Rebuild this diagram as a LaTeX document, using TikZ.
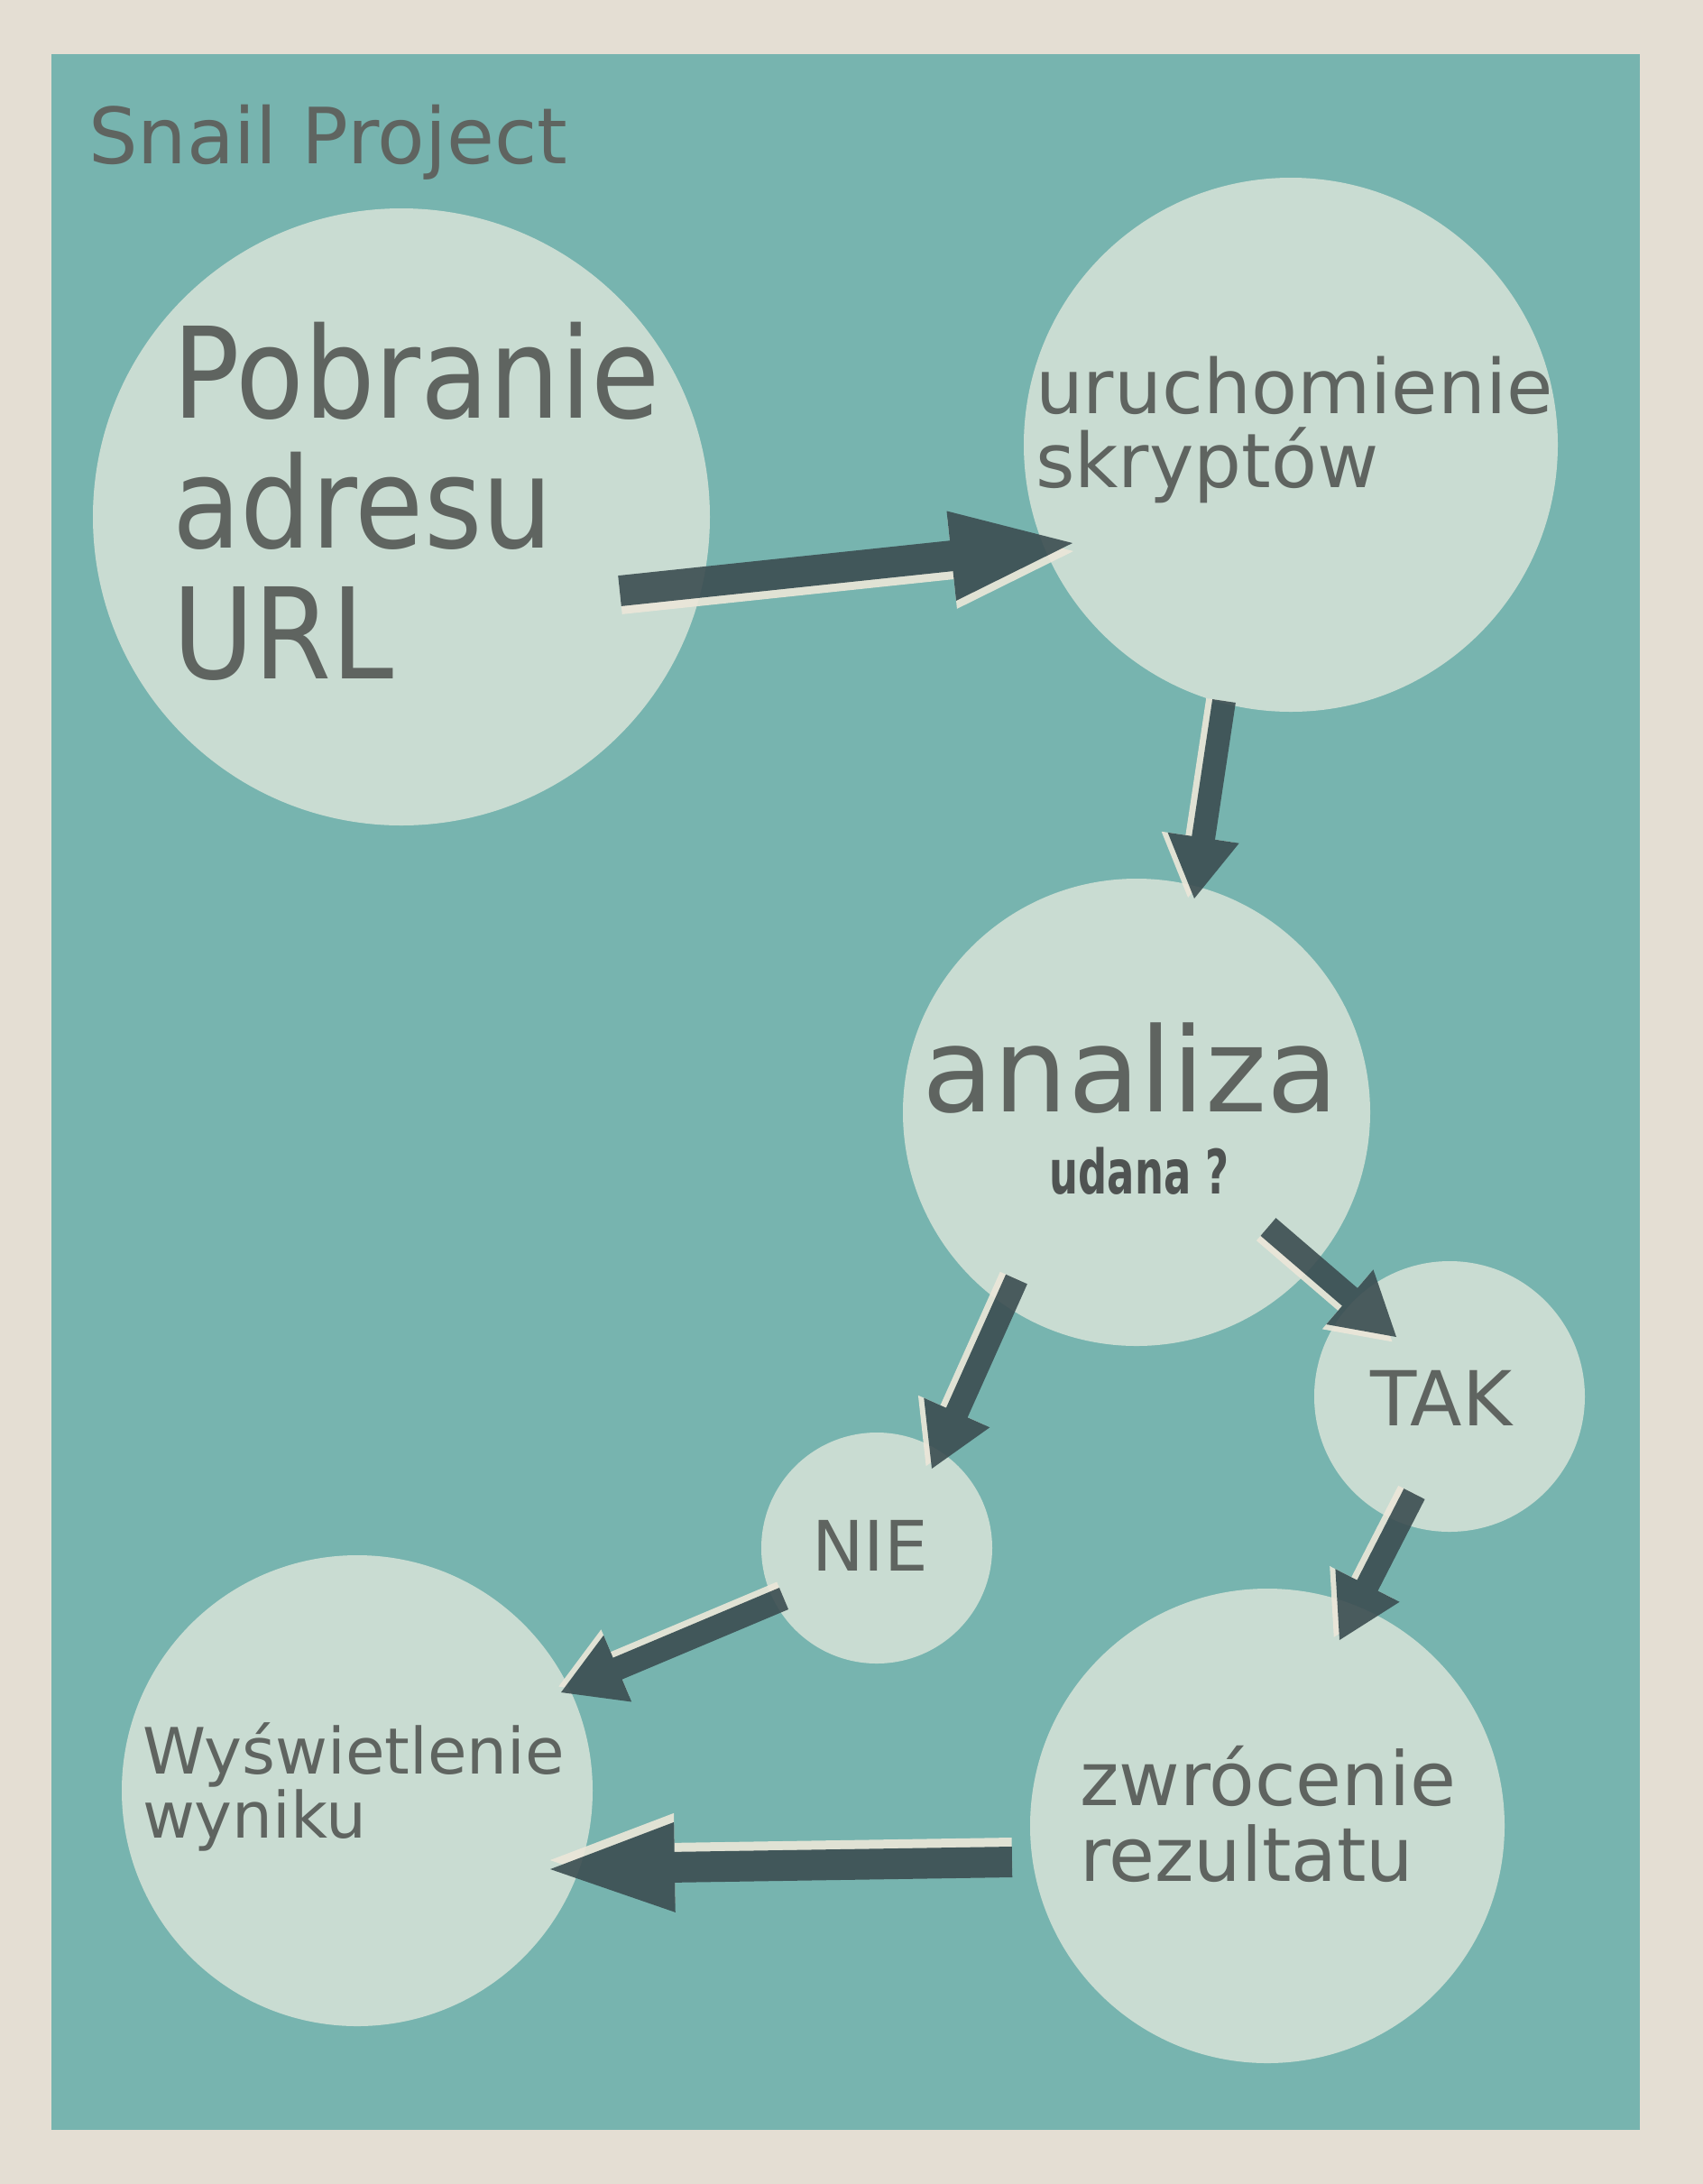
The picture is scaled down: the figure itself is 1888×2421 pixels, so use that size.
\documentclass[tikz,border=0pt]{standalone}
\usepackage{fontspec}
\setmainfont{DejaVu Sans}
\newfontfamily\condbold{DejaVu Sans}[FakeStretch=0.66]
\usetikzlibrary{calc}
\definecolor{paperc}{HTML}{E4DED3}
\definecolor{tealc}{HTML}{77B4AF}
\definecolor{bubblec}{HTML}{C9DCD2}
\definecolor{textc}{HTML}{5F6460}
\definecolor{boldc}{HTML}{4F5352}
\definecolor{darkc}{HTML}{3C4D51}
\definecolor{creamc}{HTML}{ECE7D9}
\newcommand{\snailshape}[6]{%
  \path ($(#3)!#6!(#2)$) coordinate (sp-h);
  \fill[#1] ($(#2)!#4!90:(#3)$) -- ($(sp-h)!#4!90:(#3)$) -- ($(sp-h)!#5!90:(#3)$) -- (#3)
    -- ($(sp-h)!#5!-90:(#3)$) -- ($(sp-h)!#4!-90:(#3)$) -- ($(#2)!#4!-90:(#3)$) -- cycle;}
\newcommand{\snailarrow}[6]{%
  \path ($(#1)!#6!-90:(#2)$) coordinate (sa-t) ($(#2)!#6!90:(#1)$) coordinate (sa-p);
  \begin{scope}[transparency group, opacity=0.9]
    \snailshape{creamc}{sa-t}{sa-p}{#3}{#4}{#5}
    \snailshape{darkc}{#1}{#2}{#3}{#4}{#5}
  \end{scope}}
\begin{document}
\begin{tikzpicture}[x=1pt,y=-1pt,
  bubble/.style={circle, fill=bubblec, inner sep=0pt, draw=none},
  lbl/.style={anchor=base west, inner sep=0pt, outer sep=0pt, text=textc}]
\useasboundingbox (0,0) rectangle (1888,2421);
\fill[paperc] (0,0) rectangle (1888,2421);
\fill[tealc] (57,60) rectangle (1818,2361);

\node[lbl, font=\fontsize{86}{90}\selectfont] (title) at (98,181) {Snail Project};

\node[bubble, minimum size=684pt] (pob) at (445,573) {};
\node[bubble, minimum size=592pt] (uru) at (1431,493) {};
\node[bubble, minimum size=518pt] (ana) at (1260,1233) {};
\node[bubble, minimum size=300pt] (tak) at (1607,1548) {};
\node[bubble, minimum size=256pt] (nie) at (972,1716) {};
\node[bubble, minimum size=522pt] (wys) at (396,1985) {};
\node[bubble, minimum size=526pt] (zwr) at (1405,2024) {};

\node[lbl, font=\fontsize{140}{140}\selectfont] (pob1) at (191,463) {\scalebox{0.885}[1]{Pobranie}};
\node[lbl, font=\fontsize{140}{140}\selectfont] (pob2) at (191,607) {\scalebox{0.885}[1]{adresu}};
\node[lbl, font=\fontsize{140}{140}\selectfont] (pob3) at (191,752) {\scalebox{0.885}[1]{URL}};

\node[lbl, font=\fontsize{83.5}{83.5}\selectfont] (uru1) at (1148,458) {uruchomienie};
\node[lbl, font=\fontsize{83.5}{83.5}\selectfont] (uru2) at (1148,540) {skryptów};

\node[lbl, font=\fontsize{130}{130}\selectfont] (ana1) at (1022,1232) {analiza};
\node[anchor=base, inner sep=0pt, text=boldc, font=\condbold\bfseries\fontsize{68}{68}\selectfont] (ana2) at (1263,1323) {udana ?};

\node[lbl, font=\fontsize{84}{84}\selectfont] (tak1) at (1519,1580) {TAK};
\node[lbl, font=\fontsize{77}{77}\selectfont] (nie1) at (900,1741) {NIE};

\node[lbl, font=\fontsize{70.8}{70.8}\selectfont] (wys1) at (158,1966) {Wyświetlenie};
\node[lbl, font=\fontsize{70.8}{70.8}\selectfont] (wys2) at (158,2037) {wyniku};

\node[lbl, font=\fontsize{82.8}{82.8}\selectfont] (zwr1) at (1197,2001) {zwrócenie};
\node[lbl, font=\fontsize{82.8}{82.8}\selectfont] (zwr2) at (1197,2085) {rezultatu};

\coordinate (a1t) at (687,655);   \coordinate (a1p) at (1189,602);
\coordinate (a2t) at (1357,777);  \coordinate (a2p) at (1324,996);
\coordinate (a3t) at (1127,1418); \coordinate (a3p) at (1033,1628);
\coordinate (a4t) at (1406,1360); \coordinate (a4p) at (1548,1482);
\coordinate (a5t) at (1568,1656); \coordinate (a5p) at (1485,1818);
\coordinate (a6t) at (869,1772);  \coordinate (a6p) at (622,1876);
\coordinate (a7t) at (1122,2064); \coordinate (a7p) at (610,2072);

\snailarrow{a1t}{a1p}{17pt}{50pt}{135pt}{9pt}
\snailarrow{a2t}{a2p}{13pt}{40pt}{68pt}{7pt}
\snailarrow{a3t}{a3p}{13pt}{40pt}{68pt}{7pt}
\snailarrow{a4t}{a4p}{13pt}{40pt}{68pt}{7pt}
\snailarrow{a5t}{a5p}{13pt}{40pt}{68pt}{7pt}
\snailarrow{a6t}{a6p}{13pt}{40pt}{68pt}{7pt}
\snailarrow{a7t}{a7p}{17pt}{50pt}{138pt}{10pt}
\end{tikzpicture}
\end{document}
